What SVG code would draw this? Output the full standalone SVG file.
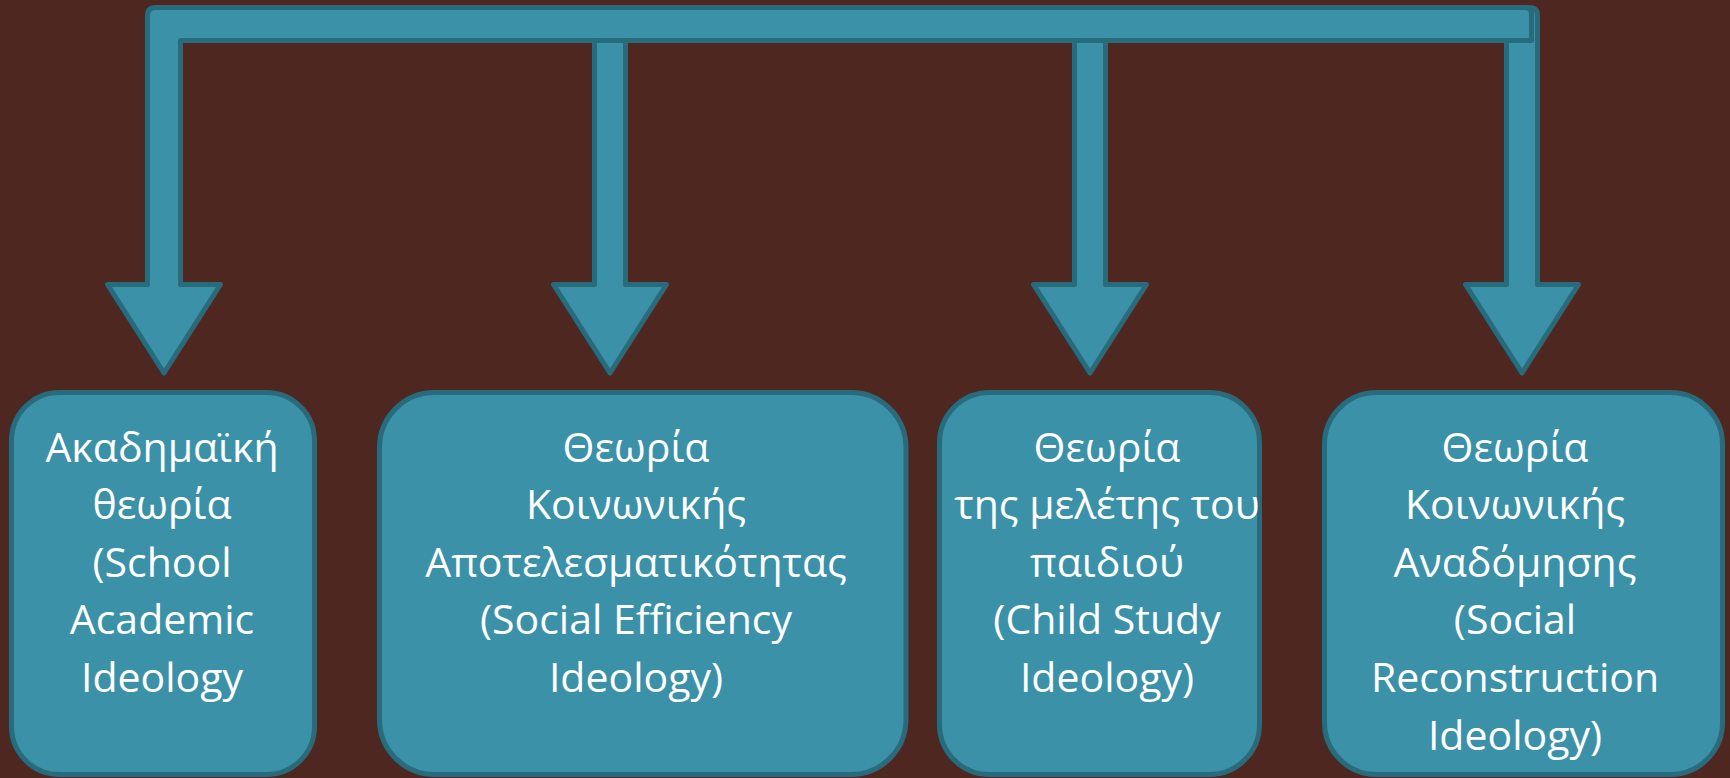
<svg xmlns="http://www.w3.org/2000/svg" width="1730" height="778" viewBox="0 0 1730 778">
<style>
.shape{fill:#3B91A8;stroke:#286B7C;stroke-width:5;stroke-linejoin:round}
.lbl{font-family:"Open Sans","Noto Sans","DejaVu Sans",sans-serif;font-size:41px;fill:#FFFFFF;text-anchor:middle}
</style>
<rect x="0" y="0" width="1730" height="778" fill="#4E2820"/>
<g id="connectors">
<path class="shape" d="M1506.5,7.5 H1529.5 Q1537.5,7.5 1537.5,15.5 V284.5 H1578.5 L1522,373 L1465.5,284.5 H1506.5 Z"/>
<path class="shape" d="M155.5,7.5 H1525 Q1531.5,7.5 1531.5,14 V40.5 H180.5 V284.5 H220.5 L164,373 L107.5,284.5 H147.5 V15.5 Q147.5,7.5 155.5,7.5 Z"/>
<path class="shape" d="M594.5,40.5 H625.5 V284.5 H666.5 L610,373 L553.5,284.5 H594.5 Z"/>
<path class="shape" d="M1074.5,40.5 H1105.5 V284.5 H1146.5 L1090,373 L1033.5,284.5 H1074.5 Z"/>
</g>
<g id="node1">
<rect class="shape" x="11.5" y="392.5" width="303" height="382" rx="48"/>
<text class="lbl" x="162"><tspan x="162" y="462">Ακαδημαϊκή</tspan><tspan x="162" y="519">θεωρία</tspan><tspan x="162" y="577">(School</tspan><tspan x="162" y="634">Academic</tspan><tspan x="162" y="692">Ideology</tspan></text>
</g>
<g id="node2">
<rect class="shape" x="379.5" y="392.5" width="526.5" height="382" rx="55"/>
<text class="lbl" x="636"><tspan x="636" y="462">Θεωρία</tspan><tspan x="636" y="519">Κοινωνικής</tspan><tspan x="636" y="577">Αποτελεσματικότητας</tspan><tspan x="636" y="634">(Social Efficiency</tspan><tspan x="636" y="692">Ideology)</tspan></text>
</g>
<g id="node3">
<rect class="shape" x="939.5" y="392.5" width="320" height="382" rx="50"/>
<text class="lbl" x="1107"><tspan x="1107" y="462">Θεωρία</tspan><tspan x="1107" y="519">της μελέτης του</tspan><tspan x="1107" y="577">παιδιού</tspan><tspan x="1107" y="634">(Child Study</tspan><tspan x="1107" y="692">Ideology)</tspan></text>
</g>
<g id="node4">
<rect class="shape" x="1324.5" y="392.5" width="398" height="382" rx="52"/>
<text class="lbl" x="1515"><tspan x="1515" y="462">Θεωρία</tspan><tspan x="1515" y="519">Κοινωνικής</tspan><tspan x="1515" y="577">Αναδόμησης</tspan><tspan x="1515" y="634">(Social</tspan><tspan x="1515" y="692">Reconstruction</tspan><tspan x="1515" y="750">Ideology)</tspan></text>
</g>
</svg>
